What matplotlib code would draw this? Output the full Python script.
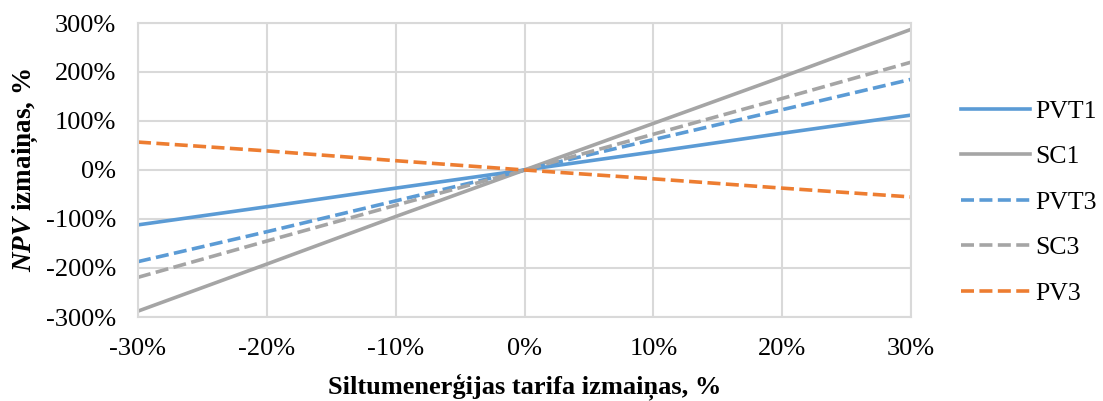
import numpy as np
import matplotlib.pyplot as plt
from matplotlib.ticker import FuncFormatter

plt.rcParams['font.family'] = 'Liberation Serif'
plt.rcParams['mathtext.fontset'] = 'custom'
plt.rcParams['mathtext.rm'] = 'Liberation Serif'
plt.rcParams['mathtext.bf'] = 'Liberation Serif:bold'
plt.rcParams['mathtext.bfit'] = 'Liberation Serif:bold:italic'

# %%

tarif_change = [-30, -20, -10, 0, 10, 20, 30]
pvt1 = [-112, -75, -37, 0, 37, 75, 112]
sc1 = [-288, -192, -95, 0, 95, 190, 287]
pvt3 = [-187, -126, -63, 0, 62, 123, 185]
sc3 = [-219, -145, -72, 0, 73, 146, 220]
pv3 = [57, 39, 19, 0, -18, -37, -55]

dash = (0, (3.6, 1.5))
series = [
    ('PVT1', pvt1, '#5B9BD5', '-'),
    ('SC1', sc1, '#A5A5A5', '-'),
    ('PVT3', pvt3, '#5B9BD5', dash),
    ('SC3', sc3, '#A5A5A5', dash),
    ('PV3', pv3, '#ED7D31', dash),
]

fig = plt.figure(figsize=(11.03, 4.01), dpi=100)
ax = fig.add_axes([138 / 1103, 1 - 317 / 401, (911 - 138) / 1103, (317 - 23) / 401])

for name, vals, col, ls in series:
    ax.plot(tarif_change, vals, color=col, linestyle=ls, linewidth=2.6, label=name)

pct = FuncFormatter(lambda v, p: '%d%%' % v)
ax.set_xlim(-30, 30)
ax.set_ylim(-300, 300)
ax.set_xticks(np.arange(-30, 31, 10))
ax.set_yticks(np.arange(-300, 301, 100))
ax.xaxis.set_major_formatter(pct)
ax.yaxis.set_major_formatter(pct)
ax.tick_params(labelsize=19, length=0)
ax.tick_params(axis='y', pad=16)
ax.tick_params(axis='x', pad=15)
ax.grid(color='#D9D9D9', linewidth=1.5)
for s in ax.spines.values():
    s.set_color('#D9D9D9')
    s.set_linewidth(1.5)

ax.set_xlabel('Siltumenerģijas tarifa izmaiņas, %', fontsize=19, fontweight='bold', labelpad=10)
ax.set_ylabel(r'$\mathbfit{NPV}$ izmaiņas, %', fontsize=19.5, fontweight='bold', labelpad=4)

ax.legend(loc='center left', bbox_to_anchor=(1.051, 0.39), frameon=False, fontsize=18.5,
          handlelength=2.7, handletextpad=0.2, labelspacing=0.88, borderaxespad=0)

fig.savefig('out.png', dpi=100)
